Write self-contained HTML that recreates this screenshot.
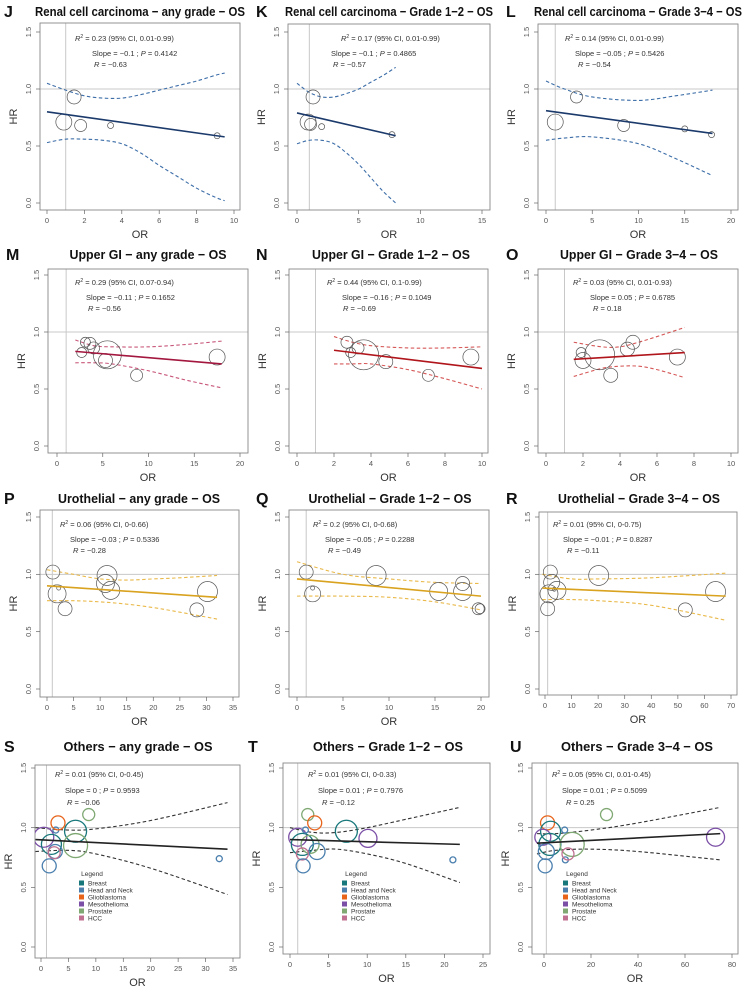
<!DOCTYPE html>
<html><head><meta charset="utf-8"><title>Meta-regression HR vs OR</title>
<style>
html,body{margin:0;padding:0;background:#fff;}
svg{display:block;font-family:"Liberation Sans",Arial,sans-serif;}
</style></head>
<body>
<svg id="chart" width="743" height="986" viewBox="0 0 743 986" xmlns="http://www.w3.org/2000/svg"></svg>
<script>
// ---------- DATA ----------
const categories = ["Breast","Head and Neck","Glioblastoma","Mesothelioma","Prostate","HCC"];
const categoryColors = ["#17777a","#4a7fae","#e8641b","#7b4fa6","#7fa873","#c07090"];
const yTicks = [0.0,0.5,1.0,1.5];
const yTickLabels = ["0.0","0.5","1.0","1.5"];

const J_or=[0.9,1.45,1.8,3.4,9.1], J_hr=[0.71,0.93,0.68,0.68,0.59], J_size=[8,7,6,3,3];
const J_fitX=[0,9.5], J_fitY=[0.8,0.58];
const J_ciX=[0,1,2,3,4,5,6,7,8,9,9.5], J_ciU=[1.05,0.99,0.94,0.92,0.92,0.95,0.99,1.03,1.07,1.12,1.14], J_ciL=[0.53,0.56,0.56,0.55,0.52,0.44,0.33,0.23,0.13,0.05,0.02];
const J_xTicks=[0,2,4,6,8,10];
const J_stats=["0.23","0.01-0.99","\u22120.1","0.4142","\u22120.63"];

const K_or=[1.3,0.9,1.1,2.0,7.7], K_hr=[0.93,0.71,0.69,0.67,0.6], K_size=[7,8,6,3,3];
const K_fitX=[0,8], K_fitY=[0.79,0.59];
const K_ciX=[0,1,2,3,4,5,6,7,8], K_ciU=[1.05,0.97,0.93,0.93,0.96,1.0,1.06,1.12,1.19], K_ciL=[0.52,0.55,0.55,0.52,0.44,0.34,0.22,0.1,0.0];
const K_xTicks=[0,5,10,15];
const K_stats=["0.17","0.01-0.99","\u22120.1","0.4865","\u22120.57"];

const L_or=[1,3.3,8.4,15,17.9], L_hr=[0.71,0.93,0.68,0.65,0.6], L_size=[8,6,6,3,3];
const L_fitX=[0,18], L_fitY=[0.81,0.61];
const L_ciX=[0,2,5,10,14,18], L_ciU=[1.07,1.0,0.93,0.9,0.94,0.99], L_ciL=[0.55,0.57,0.58,0.52,0.39,0.24];
const L_xTicks=[0,5,10,15,20];
const L_stats=["0.14","0.01-0.99","\u22120.05","0.5426","\u22120.54"];

const M_or=[2.7,3.1,3.6,4.0,5.3,5.5,8.7,17.5], M_hr=[0.82,0.91,0.9,0.86,0.75,0.8,0.62,0.78], M_size=[5,5,6,6,7,14,6,8];
const M_fitX=[2,18], M_fitY=[0.83,0.72];
const M_ciX=[2,4,6,10,14,18], M_ciU=[0.93,0.88,0.87,0.87,0.89,0.92], M_ciL=[0.73,0.73,0.72,0.66,0.58,0.51];
const M_xTicks=[0,5,10,15,20];
const M_stats=["0.29","0.07-0.94","\u22120.11","0.1652","\u22120.56"];

const N_or=[2.7,2.9,3.3,3.6,4.8,7.1,9.4], N_hr=[0.91,0.82,0.86,0.8,0.74,0.62,0.78], N_size=[6,5,6,15,7,6,8];
const N_fitX=[2,10], N_fitY=[0.84,0.68];
const N_ciX=[2,3,4,6,8,10], N_ciU=[0.96,0.91,0.88,0.86,0.86,0.87], N_ciL=[0.72,0.72,0.72,0.67,0.59,0.5];
const N_xTicks=[0,2,4,6,8,10];
const N_stats=["0.44","0.1-0.99","\u22120.16","0.1049","\u22120.69"];

const O_or=[1.9,2.0,2.9,3.5,4.4,4.7,7.1], O_hr=[0.82,0.75,0.8,0.62,0.85,0.91,0.78], O_size=[5,8,15,7,7,7,8];
const O_fitX=[1.5,7.5], O_fitY=[0.76,0.82];
const O_ciX=[1.5,3,4,5,6,7.5], O_ciU=[0.91,0.87,0.87,0.91,0.96,1.04], O_ciL=[0.61,0.68,0.7,0.7,0.67,0.6];
const O_xTicks=[0,2,4,6,8,10];
const O_stats=["0.03","0.01-0.93","0.05","0.6785","0.18"];

const P_or=[1.1,2.2,1.9,3.4,11.3,11.0,12.0,28.2,30.2], P_hr=[1.02,0.88,0.83,0.7,0.99,0.92,0.86,0.69,0.85], P_size=[7,2,9,7,10,9,9,7,10];
const P_fitX=[0,32], P_fitY=[0.9,0.8];
const P_ciX=[0,5,10,15,20,25,32], P_ciU=[1.04,1.0,0.96,0.95,0.96,0.97,0.99], P_ciL=[0.77,0.77,0.76,0.74,0.71,0.67,0.61];
const P_xTicks=[0,5,10,15,20,25,30,35];
const P_stats=["0.06","0-0.66","\u22120.03","0.5336","\u22120.28"];

const Q_or=[1.0,1.7,1.7,8.6,15.4,18.0,18.0,19.7,19.9], Q_hr=[1.02,0.88,0.83,0.99,0.85,0.92,0.85,0.7,0.7], Q_size=[7,2,8,10,9,7,9,6,5];
const Q_fitX=[0,20], Q_fitY=[0.96,0.81];
const Q_ciX=[0,5,10,15,20], Q_ciU=[1.11,1.0,0.96,0.93,0.92], Q_ciL=[0.81,0.81,0.8,0.76,0.69];
const Q_xTicks=[0,5,10,15,20];
const Q_stats=["0.2","0-0.68","\u22120.05","0.2288","\u22120.49"];

const R_or=[2.0,3.5,2.5,1.5,4.5,1.0,20.2,52.8,64.2], R_hr=[1.02,0.87,0.93,0.83,0.86,0.7,0.99,0.69,0.85], R_size=[7,2,8,9,9,7,10,7,10];
const R_fitX=[-1,68], R_fitY=[0.88,0.81];
const R_ciX=[-1,10,20,40,68], R_ciU=[1.0,0.96,0.96,0.97,1.01], R_ciL=[0.78,0.78,0.77,0.73,0.6];
const R_xTicks=[0,10,20,30,40,50,60,70];
const R_stats=["0.01","0-0.75","\u22120.01","0.8287","\u22120.11"];

const S_or=[0.5,1.9,2.7,3.1,2.6,2.4,1.5,6.3,6.3,8.7,32.5], S_hr=[0.92,0.86,0.98,1.04,0.8,0.79,0.68,0.97,0.85,1.11,0.74], S_size=[10,10,3,7,7,6,7,11,12,6,3], S_cat=[3,0,1,2,1,5,1,0,4,4,1];
const S_fitX=[-1,34], S_fitY=[0.9,0.82];
const S_ciX=[-1,5,10,20,34], S_ciU=[1.0,0.98,0.99,1.06,1.21], S_ciL=[0.8,0.81,0.78,0.66,0.44];
const S_xTicks=[0,5,10,15,20,25,30,35];
const S_stats=["0.01","0-0.45","0","0.9593","\u22120.06"];

const T_or=[1.0,1.6,2.6,2.0,2.3,3.2,3.5,1.6,1.7,7.3,10.1,21.1], T_hr=[0.92,0.86,0.86,0.98,1.11,1.04,0.8,0.78,0.68,0.97,0.91,0.73], T_size=[9,11,9,3,6,7,8,6,7,11,9,3], T_cat=[3,0,4,1,4,2,1,5,1,0,3,1];
const T_fitX=[0,22], T_fitY=[0.9,0.86];
const T_ciX=[0,3,6,10,15,22], T_ciU=[1.0,0.96,0.96,1.0,1.07,1.17], T_ciL=[0.79,0.81,0.82,0.78,0.7,0.54];
const T_xTicks=[0,5,10,15,20,25];
const T_stats=["0.01","0-0.33","0.01","0.7976","\u22120.12"];

const U_or=[1.5,2.8,-0.5,2.5,1,0.5,8.8,9.1,12.0,10.2,26.6,73], U_hr=[1.04,0.97,0.92,0.86,0.8,0.68,0.98,0.73,0.86,0.78,1.11,0.92], U_size=[7,10,8,11,8,7,3,3,12,6,6,9], U_cat=[2,0,3,0,1,1,1,1,4,5,4,3];
const U_fitX=[-3,75], U_fitY=[0.87,0.95];
const U_ciX=[-3,5,20,40,75], U_ciU=[0.95,0.95,0.98,1.04,1.17], U_ciL=[0.78,0.81,0.82,0.8,0.73];
const U_xTicks=[0,20,40,60,80];
const U_stats=["0.05","0.01-0.45","0.01","0.5099","0.25"];

// ---------- LAYOUT ----------
const svg=document.getElementById('chart');
const NS="http://www.w3.org/2000/svg";
function el(tag,attrs,parent){const e=document.createElementNS(NS,tag);for(const k in attrs)e.setAttribute(k,attrs[k]);(parent||svg).appendChild(e);return e;}
function smooth(pts){let d="M"+pts[0][0]+","+pts[0][1];for(let i=0;i<pts.length-1;i++){const p0=pts[i-1]||pts[i],p1=pts[i],p2=pts[i+1],p3=pts[i+2]||p2;
 const c1x=p1[0]+(p2[0]-p0[0])/6,c1y=p1[1]+(p2[1]-p0[1])/6,c2x=p2[0]-(p3[0]-p1[0])/6,c2y=p2[1]-(p3[1]-p1[1])/6;
 d+=" C"+c1x+","+c1y+" "+c2x+","+c2y+" "+p2[0]+","+p2[1];}return d;}

const panels=[
 {id:"J",title:"Renal cell carcinoma \u2212 any grade \u2212 OS",lx:4,ty:11,tcx:140,tw:210,box:[40,23,240,210],xs:[0,47,10,234],ys:[203,32],txt:[[75,38],[92,53],[94,64]],lc:"#1b3a6b",dc:"#3d6ea8",d:[J_or,J_hr,J_size,null,J_fitX,J_fitY,J_ciX,J_ciU,J_ciL,J_xTicks,J_stats]},
 {id:"K",title:"Renal cell carcinoma \u2212 Grade 1\u22122 \u2212 OS",lx:256,ty:11,tcx:389,tw:208,box:[288,24,490,210],xs:[0,297,15,482],ys:[203,32],txt:[[341,38],[331,53],[333,64]],lc:"#1b3a6b",dc:"#3d6ea8",d:[K_or,K_hr,K_size,null,K_fitX,K_fitY,K_ciX,K_ciU,K_ciL,K_xTicks,K_stats]},
 {id:"L",title:"Renal cell carcinoma \u2212 Grade 3\u22124 \u2212 OS",lx:506,ty:11,tcx:638,tw:208,box:[538,24,738,210],xs:[0,546,20,731],ys:[203,32],txt:[[565,38],[575,53],[578,64]],lc:"#1b3a6b",dc:"#3d6ea8",d:[L_or,L_hr,L_size,null,L_fitX,L_fitY,L_ciX,L_ciU,L_ciL,L_xTicks,L_stats]},
 {id:"M",title:"Upper GI \u2212 any grade \u2212 OS",lx:6,ty:254,tcx:148,tw:157,box:[48,269,248,453],xs:[0,57,20,240],ys:[446,275],txt:[[75,282],[86,297],[88,308]],lc:"#a3173f",dc:"#c8587a",d:[M_or,M_hr,M_size,null,M_fitX,M_fitY,M_ciX,M_ciU,M_ciL,M_xTicks,M_stats]},
 {id:"N",title:"Upper GI \u2212 Grade 1\u22122 \u2212 OS",lx:256,ty:254,tcx:391,tw:158,box:[289,269,488,453],xs:[0,297,10,482],ys:[446,275],txt:[[327,282],[342,297],[343,308]],lc:"#b0151b",dc:"#d65858",d:[N_or,N_hr,N_size,null,N_fitX,N_fitY,N_ciX,N_ciU,N_ciL,N_xTicks,N_stats]},
 {id:"O",title:"Upper GI \u2212 Grade 3\u22124 \u2212 OS",lx:506,ty:254,tcx:639,tw:158,box:[538,269,738,453],xs:[0,546,10,731],ys:[446,275],txt:[[573,282],[590,297],[593,308]],lc:"#b0151b",dc:"#d65858",d:[O_or,O_hr,O_size,null,O_fitX,O_fitY,O_ciX,O_ciU,O_ciL,O_xTicks,O_stats]},
 {id:"P",title:"Urothelial \u2212 any grade \u2212 OS",lx:4,ty:498,tcx:139,tw:162,box:[40,510,239,697],xs:[0,47,35,233],ys:[689,517],txt:[[60,524],[70,539],[73,550]],lc:"#d9a21f",dc:"#e9b94a",d:[P_or,P_hr,P_size,null,P_fitX,P_fitY,P_ciX,P_ciU,P_ciL,P_xTicks,P_stats]},
 {id:"Q",title:"Urothelial \u2212 Grade 1\u22122 \u2212 OS",lx:256,ty:498,tcx:390,tw:163,box:[289,510,489,697],xs:[0,297,20,481],ys:[689,517],txt:[[313,524],[325,539],[328,550]],lc:"#d9a21f",dc:"#e9b94a",d:[Q_or,Q_hr,Q_size,null,Q_fitX,Q_fitY,Q_ciX,Q_ciU,Q_ciL,Q_xTicks,Q_stats]},
 {id:"R",title:"Urothelial \u2212 Grade 3\u22124 \u2212 OS",lx:506,ty:498,tcx:639,tw:162,box:[539,512,737,695],xs:[0,545,70,731],ys:[689,517],txt:[[553,524],[563,539],[567,550]],lc:"#d9a21f",dc:"#e9b94a",d:[R_or,R_hr,R_size,null,R_fitX,R_fitY,R_ciX,R_ciU,R_ciL,R_xTicks,R_stats]},
 {id:"S",title:"Others \u2212 any grade \u2212 OS",lx:4,ty:746,tcx:138,tw:149,box:[35,765,240,958],xs:[0,41,35,233],ys:[947,768],txt:[[55,774],[65,790],[67,802]],lc:"#222",dc:"#333",leg:[79,92],d:[S_or,S_hr,S_size,S_cat,S_fitX,S_fitY,S_ciX,S_ciU,S_ciL,S_xTicks,S_stats]},
 {id:"T",title:"Others \u2212 Grade 1\u22122 \u2212 OS",lx:248,ty:746,tcx:388,tw:150,box:[283,763,490,954],xs:[0,290,25,483],ys:[947,768],txt:[[308,774],[318,790],[322,802]],lc:"#222",dc:"#333",leg:[342,356],d:[T_or,T_hr,T_size,T_cat,T_fitX,T_fitY,T_ciX,T_ciU,T_ciL,T_xTicks,T_stats]},
 {id:"U",title:"Others \u2212 Grade 3\u22124 \u2212 OS",lx:510,ty:746,tcx:637,tw:152,box:[532,763,738,954],xs:[0,544,80,732],ys:[947,768],txt:[[552,774],[562,790],[566,802]],lc:"#222",dc:"#333",leg:[563,577],d:[U_or,U_hr,U_size,U_cat,U_fitX,U_fitY,U_ciX,U_ciU,U_ciL,U_xTicks,U_stats]}
];

panels.forEach(p=>{
 const [or,hr,size,cat,fitX,fitY,ciX,ciU,ciL,xTicks,stats]=p.d;
 const [l,t,r,b]=p.box;
 const X=v=>p.xs[1]+(v-p.xs[0])*(p.xs[3]-p.xs[1])/(p.xs[2]-p.xs[0]);
 const Y=v=>p.ys[0]+(v/1.5)*(p.ys[1]-p.ys[0]);
 const g=el('g',{});
 
 
 const cp=el('clipPath',{id:'clip'+p.id},g);el('rect',{x:l,y:t,width:r-l,height:b-t},cp);
 const lt=el('text',{x:p.lx,y:p.ty+6,'font-size':16,'font-weight':'bold',fill:'#111'},g);lt.textContent=p.id;
 
 
 const tt=el('text',{x:p.tcx,y:p.ty+5,'font-size':13,'font-weight':'bold','text-anchor':'middle',fill:'#111',textLength:p.tw,lengthAdjust:'spacingAndGlyphs'},g);tt.textContent=p.title;
 
 
 const rl1=el('line',{x1:X(1),x2:X(1),y1:t,y2:b,stroke:'#c8c8c8','stroke-width':1},g);
 
 
 const rl2=el('line',{x1:l,x2:r,y1:Y(1),y2:Y(1),stroke:'#c8c8c8','stroke-width':1},g);
 
 
 const bx=el('rect',{x:l,y:t,width:r-l,height:b-t,fill:'none',stroke:'#888','stroke-width':0.9},g);
 
 
 yTicks.forEach((v,i)=>{
  el('line',{x1:l-4,x2:l,y1:Y(v),y2:Y(v),stroke:'#666','stroke-width':0.7},g);
  const tx=el('text',{x:0,y:0,'font-size':7.5,fill:'#555','text-anchor':'middle',transform:`translate(${l-9},${Y(v)}) rotate(-90)`},g);
  tx.textContent=yTickLabels[i];
  
  
 });
 const yl=el('text',{x:0,y:0,'font-size':11,fill:'#333','text-anchor':'middle',transform:`translate(${l-23},${(t+b)/2}) rotate(-90)`},g);yl.textContent="HR";
 
 
 xTicks.forEach(v=>{
  el('line',{x1:X(v),x2:X(v),y1:b,y2:b+4,stroke:'#666','stroke-width':0.7},g);
  const tx=el('text',{x:X(v),y:b+13,'font-size':7.5,fill:'#555','text-anchor':'middle'},g);tx.textContent=String(v);
  
  
 });
 const xl=el('text',{x:(l+r)/2,y:b+28,'font-size':11,fill:'#333','text-anchor':'middle'},g);xl.textContent="OR";
 
 
 const s=stats;
 const lines=[
  `<tspan font-style="italic">R</tspan><tspan dy="-3" font-size="5">2</tspan><tspan dy="3"> = ${s[0]}  (95% CI, ${s[1]})</tspan>`,
  `Slope = ${s[2]} ;  <tspan font-style="italic">P</tspan> = ${s[3]}`,
  `<tspan font-style="italic">R</tspan> = ${s[4]}`];
 lines.forEach((h,i)=>{const tx=el('text',{x:p.txt[i][0],y:p.txt[i][1]+3,'font-size':7.5,fill:'#333'},g);tx.innerHTML=h;
  
  });
 const pg=el('g',{'clip-path':`url(#clip${p.id})`},g);
 [ciU,ciL].forEach((arr,k)=>{
  const pts=ciX.map((x,i)=>[X(x),Y(arr[i])]);
  const c=el('path',{d:smooth(pts),fill:'none',stroke:p.dc,'stroke-width':1.1,'stroke-dasharray':'3.5,2.5'},pg);
  
  
 });
 or.forEach((x,i)=>{
  const c=el('circle',{cx:X(x),cy:Y(hr[i]),r:size[i],fill:'none',stroke:cat?categoryColors[cat[i]]:'#555','stroke-width':cat?1.3:0.7},pg);
  
  
 });
 const fl=el('line',{x1:X(fitX[0]),y1:Y(fitY[0]),x2:X(fitX[1]),y2:Y(fitY[1]),stroke:p.lc,'stroke-width':1.6},pg);
 
 
 if(p.leg){
  const lg=el('g',{},g);
  
  
  const lt2=el('text',{x:p.leg[1],y:876,'font-size':6.5,fill:'#333','text-anchor':'middle'},lg);lt2.textContent="Legend";
  categories.forEach((c,i)=>{
   const yy=883+i*7;
   el('rect',{x:p.leg[0],y:yy-2.5,width:5,height:5,fill:categoryColors[i]},lg);
   const tx=el('text',{x:p.leg[0]+9,y:yy+2.3,'font-size':6.5,fill:'#333'},lg);tx.textContent=c;
   
   
  });
 }
});
</script>
</body></html>
